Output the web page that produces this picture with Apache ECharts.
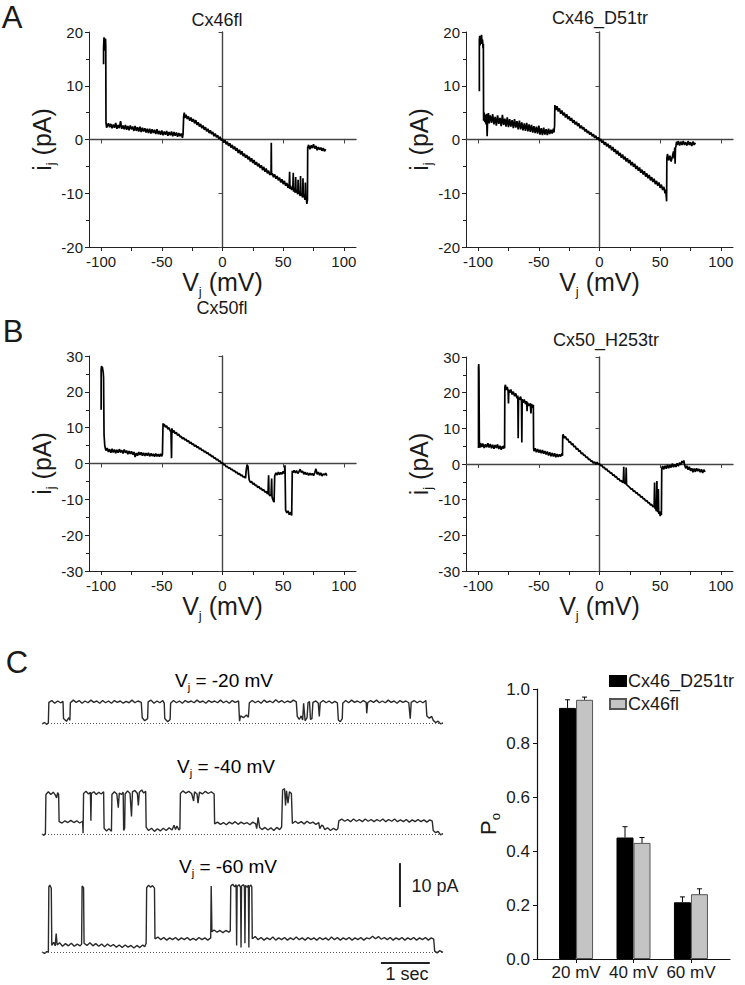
<!DOCTYPE html>
<html><head><meta charset="utf-8">
<script src="https://cdn.jsdelivr.net/npm/echarts@6/dist/echarts.min.js"></script>
<style>html,body{margin:0;padding:0;background:#fff}#c{width:745px;height:985px}</style>
</head><body><div id="c"></div>
<script>
const FONT = 'Liberation Sans, Arial, Helvetica, sans-serif';

// ---------- Panel A / B : single-channel I-V ramps [Vj (mV), ij (pA)] ----------
const ivCx46fl = [[-98,14],[-98,17],[-97.6,19],[-97.3,16.5],[-97,18.5],[-96.7,17],[-96.4,18.8],[-96.2,17.5],[-96,3.2],[-95.5,2.2],[-94,3.0],[-93,2.3],[-92,2.9],[-91,2.1],[-90,2.8],[-89,2.2],[-88,3.1],[-87,2.0],[-86,2.7],[-85,2.1],[-84,3.4],[-83,2.0],[-82,2.6],[-81,1.9],[-80,2.7],[-79,1.8],[-78,2.5],[-77,1.7],[-76,2.6],[-75,1.9],[-74,2.4],[-73,1.6],[-72,2.5],[-71,1.6],[-70,2.3],[-69,1.5],[-68,2.4],[-67,1.4],[-66,2.2],[-65,1.5],[-64,2.1],[-63,1.3],[-62,2.0],[-61,1.2],[-60,2.0],[-59,1.1],[-58,1.9],[-57,1.2],[-56,1.8],[-55,1.0],[-54,1.9],[-53,1.0],[-52,1.6],[-51,0.9],[-50,1.7],[-49,0.8],[-48,1.5],[-47,0.9],[-46,1.6],[-45,0.7],[-44,1.4],[-43,0.8],[-42,1.5],[-41,0.6],[-40,1.4],[-39,0.7],[-38,1.3],[-37,0.5],[-36,1.2],[-35,0.6],[-34,1.1],[-33,0.3],[-32.5,1.0],[-32,4.3],[-31.5,5.0],[-31,4.0],[-30,4.6],[-29,3.8],[-28,4.3],[-27,3.5],[-26,4.1],[-25,3.3],[-24,3.8],[-23,3.0],[-22,3.6],[-21,2.7],[-20,3.2],[-19,2.4],[-18,2.9],[-17,2.1],[-16,2.6],[-15,1.8],[-14,2.3],[-13,1.5],[-12,2.0],[-11,1.2],[-10,1.7],[-9,1.0],[-8,1.4],[-7,0.6],[-6,1.1],[-5,0.4],[-4,0.8],[-3,0.1],[-2,0.5],[-1,-0.2],[0,0.1],[1,-0.6],[2,-0.1],[3,-0.9],[4,-0.4],[5,-1.2],[6,-0.7],[7,-1.5],[8,-1.0],[9,-1.8],[10,-1.3],[11,-2.1],[12,-1.6],[13,-2.5],[14,-1.9],[15,-2.8],[16,-2.2],[17,-3.1],[18,-2.6],[19,-3.4],[20,-2.9],[21,-3.7],[22,-3.2],[23,-4.1],[24,-3.5],[25,-4.4],[26,-3.8],[27,-4.7],[28,-4.2],[29,-5.0],[30,-4.5],[31,-5.3],[32,-4.8],[33,-5.7],[34,-5.1],[35,-6.0],[36,-5.4],[37,-6.3],[38,-5.8],[39,-6.6],[40,-6.1],[40.2,-0.6],[40.4,-6.6],[41,-6.3],[42,-7.0],[43,-6.5],[44,-7.3],[45,-6.8],[46,-7.6],[47,-7.1],[48,-8.0],[49,-7.4],[50,-8.3],[51,-7.7],[52,-8.6],[53,-8.1],[54,-9.0],[55,-8.3],[55.3,-6.0],[55.6,-9.2],[56,-8.6],[57,-9.4],[58,-8.8],[58.3,-6.2],[58.6,-9.7],[59,-9.1],[60,-9.9],[60.3,-7.0],[60.6,-9.9],[61,-9.4],[62,-10.2],[62.3,-7.5],[62.6,-10.1],[63,-9.7],[64,-10.5],[64.3,-6.8],[64.6,-10.4],[65,-10.0],[66,-10.8],[66.3,-7.2],[66.6,-10.7],[67,-10.2],[68,-11.2],[68.3,-8.0],[68.6,-11.0],[69,-10.6],[69.5,-12.0],[70,-11.2],[70.2,-1.5],[71,-1.0],[72,-1.8],[73,-1.1],[74,-1.6],[75,-0.9],[76,-1.7],[77,-1.2],[78,-2.0],[79,-1.4],[80,-1.9],[81,-1.5],[82,-2.1],[83,-1.6],[84,-2.2],[85,-1.8]];

const ivCx46D51tr = [[-99,9],[-99,18.5],[-98.7,19.3],[-98.4,17.5],[-98,18.8],[-97.6,17.8],[-97.2,19.5],[-96.8,18],[-96.4,18.6],[-96,17],[-95.7,17.8],[-95.5,3.5],[-95,5.0],[-94.5,3.2],[-94,4.6],[-93.5,2.8],[-93,4.8],[-92.6,0.6],[-92.2,3.6],[-91.5,4.9],[-91,3.0],[-90,4.5],[-89,3.1],[-88,4.7],[-87,2.8],[-86,4.2],[-85,2.6],[-84,4.5],[-83,2.9],[-82,4.0],[-81,2.5],[-80,4.6],[-79,2.7],[-78,3.9],[-77,2.4],[-76,4.1],[-75,2.3],[-74,3.8],[-73,2.4],[-72,3.6],[-71,2.1],[-70,3.8],[-69,2.2],[-68,3.4],[-67,1.9],[-66,3.5],[-65,1.9],[-64,3.2],[-63,1.7],[-62,3.0],[-61,1.6],[-60,3.1],[-59,1.5],[-58,2.8],[-57,1.4],[-56,2.7],[-55,1.3],[-54,2.5],[-53,1.2],[-52,2.4],[-51,1.1],[-50,2.6],[-49,0.9],[-48,2.1],[-47,0.8],[-46,2.2],[-45,0.9],[-44,1.9],[-43,0.8],[-42,2.0],[-41,1.0],[-40,1.8],[-39,1.1],[-38,2.0],[-37.5,1.3],[-37,2.6],[-36.8,6.4],[-36,5.5],[-35,6.2],[-34,5.2],[-33,5.8],[-32,4.8],[-31,5.4],[-30,4.5],[-29,5.0],[-28,4.1],[-27,4.7],[-26,3.8],[-25,4.3],[-24,3.5],[-23,4.0],[-22,3.1],[-21,3.6],[-20,2.8],[-19,3.3],[-18,2.5],[-17,3.0],[-16,2.1],[-15,2.6],[-14,1.9],[-13,2.3],[-12,1.5],[-11,1.9],[-10,1.2],[-9,1.6],[-8,0.9],[-7,1.3],[-6,0.6],[-5,1.0],[-4,0.3],[-3,0.7],[-2,0.0],[-1,0.4],[0,-0.3],[1,0.1],[2,-0.6],[3,-0.2],[4,-1.0],[5,-0.5],[6,-1.3],[7,-0.8],[8,-1.6],[9,-1.1],[10,-2.0],[11,-1.4],[12,-2.3],[13,-1.8],[14,-2.7],[15,-2.1],[16,-3.0],[17,-2.5],[18,-3.4],[19,-2.8],[20,-3.7],[21,-3.2],[22,-4.1],[23,-3.5],[24,-4.4],[25,-3.8],[26,-4.8],[27,-4.2],[28,-5.1],[29,-4.5],[30,-5.5],[31,-4.9],[32,-5.8],[33,-5.2],[34,-6.2],[35,-5.6],[36,-6.5],[37,-5.9],[38,-6.9],[39,-6.3],[40,-7.2],[41,-6.6],[42,-7.6],[43,-7.0],[44,-7.9],[45,-7.3],[46,-8.3],[47,-7.7],[48,-8.6],[49,-8.0],[50,-9.0],[51,-8.4],[52,-9.4],[53,-8.8],[54,-10.0],[54.5,-9.3],[55,-10.6],[55.3,-11.5],[55.5,-3.5],[56,-2.7],[57,-3.9],[58,-3.0],[59,-4.1],[60,-3.2],[61,-2.2],[61.5,-3.5],[62,-1.5],[62.3,-4.5],[62.6,-1.6],[63,-1.2],[63.5,-0.4],[64,-1.0],[65,-0.3],[66,-1.1],[67,-0.4],[68,-1.0],[69,-0.3],[70,-1.0],[71,-0.5],[72,-1.1],[73,-0.3],[74,-1.0],[75,-0.5],[76,-1.2],[77,-0.4],[78,-1.0],[79,-0.6]];

const ivCx50fl = [[-100,15],[-100,26],[-99.7,27.2],[-99.3,26.5],[-99,27],[-98.6,26],[-98.3,25.5],[-98,24],[-97.8,16],[-97.6,8],[-97.3,6.5],[-97,5],[-96.5,4.2],[-96,3.6],[-95,4.3],[-94,3.2],[-93,4.0],[-92,3.0],[-91,4.1],[-90,3.1],[-89,3.9],[-88,2.9],[-87,3.8],[-86,3.0],[-85,4.0],[-84,3.1],[-83,3.7],[-82,2.8],[-81,3.9],[-80,3.0],[-79,3.6],[-78,2.6],[-77,3.5],[-76,2.7],[-75,3.4],[-74,2.5],[-73,3.2],[-72,1.8],[-71,2.9],[-70,2.2],[-69,3.2],[-68,2.4],[-67,3.1],[-66,2.2],[-65,3.0],[-64,2.1],[-63,2.9],[-62,2.2],[-61,3.0],[-60,2.0],[-59,2.8],[-58,2.1],[-57,2.7],[-56,1.9],[-55,2.8],[-54,2.0],[-53,2.6],[-52,1.9],[-51,2.7],[-50,2.0],[-49.5,2.6],[-49,11.2],[-48.5,10.4],[-48,11],[-47,10.1],[-46,10.5],[-45,9.6],[-44,10.0],[-43,9.0],[-42.5,9.4],[-42,1.5],[-41.7,9.8],[-41,8.6],[-40,9.2],[-39,8.3],[-38,8.7],[-37,7.8],[-36,8.2],[-35,7.4],[-34,7.6],[-33,6.9],[-32,7.2],[-31,6.5],[-30,6.8],[-29,6.1],[-28,6.4],[-27,5.6],[-26,6.0],[-25,5.3],[-24,5.5],[-23,4.8],[-22,5.1],[-21,4.4],[-20,4.7],[-19,4.0],[-18,4.3],[-17,3.6],[-16,3.8],[-15,3.2],[-14,3.4],[-13,2.8],[-12,3.0],[-11,2.4],[-10,2.5],[-9,1.9],[-8,2.1],[-7,1.5],[-6,1.6],[-5,1.0],[-4,1.2],[-3,0.6],[-2,0.7],[-1,0.1],[0,0.2],[1,-0.4],[2,-0.3],[3,-0.9],[4,-0.8],[5,-1.3],[6,-1.2],[7,-1.7],[8,-1.6],[9,-2.1],[10,-2.0],[11,-2.6],[12,-2.4],[13,-3.0],[14,-2.8],[15,-3.4],[16,-3.2],[17,-3.8],[18,-3.6],[19,-4.1],[19.5,-2.0],[20.2,-0.3],[21,-0.8],[21.5,-3.0],[22,-4.6],[23,-5.3],[24,-5.0],[25,-5.8],[26,-5.5],[27,-6.2],[28,-6.0],[29,-6.7],[30,-6.4],[31,-7.1],[32,-6.9],[33,-7.6],[34,-7.3],[35,-8.0],[36,-7.8],[37,-8.5],[37.5,-8.2],[38,-3.3],[38.3,-8.6],[39,-9.0],[40,-8.7],[40.5,-4.2],[40.8,-9.2],[41,-9.6],[42,-10.5],[42.5,-10.8],[43,-3.5],[44,-2.6],[45,-3.2],[46,-2.4],[47,-3.1],[48,-2.5],[49,-3.0],[50,-2.2],[51,-2.8],[51.5,-0.5],[52,-13.0],[53,-13.8],[54,-13.2],[55,-14.3],[56,-13.6],[57,-14.5],[57.5,-2.0],[58,-2.5],[59,-1.9],[60,-2.6],[61,-2.0],[62,-2.8],[63,-2.3],[64,-1.6],[65,-2.5],[66,-2.1],[67,-3.0],[68,-2.4],[69,-3.1],[70,-2.6],[71,-3.3],[72,-2.7],[73,-3.2],[74,-2.8],[75,-3.4],[76,-2.6],[77,-1.5],[78,-3.0],[79,-2.4],[80,-3.3],[81,-2.6],[82,-3.5],[83,-2.9],[84,-3.2],[85,-2.7],[86,-3.4]];

const ivCx50H253tr = [[-99.7,4.5],[-99.7,27],[-99.5,28],[-99.3,26],[-99,5.5],[-98.5,4.6],[-98,5.9],[-97,4.8],[-96,5.7],[-95,4.5],[-94,5.5],[-93,4.7],[-92,5.8],[-91,4.6],[-90,5.6],[-89,4.4],[-88,5.4],[-87,4.3],[-86,5.3],[-85,4.5],[-84,5.5],[-83,4.2],[-82,5.1],[-81,4.0],[-80,5.0],[-79,4.3],[-78.5,5.2],[-78.2,4.4],[-78,21.5],[-77.5,22.2],[-77,20.8],[-76,21.6],[-75.3,20.4],[-75,17],[-74.7,20.8],[-74,20.0],[-73,20.9],[-72,19.5],[-71,20.3],[-70,19.0],[-69,19.8],[-68,18.4],[-67.3,19.2],[-67,7.2],[-66.7,18.6],[-66,18.0],[-65,18.9],[-64.3,17.6],[-64,6.0],[-63.7,18.2],[-63,17.2],[-62,18.1],[-61,16.8],[-60,17.6],[-59.7,14.8],[-59.4,17.2],[-58,16.3],[-57,17.0],[-56.5,14.2],[-56,16.8],[-55,15.8],[-54.5,16.6],[-54.3,4.6],[-54,3.6],[-53,4.4],[-52,3.3],[-51,4.2],[-50,3.2],[-49,4.0],[-48,3.0],[-47,3.9],[-46,2.9],[-45,3.6],[-44,2.7],[-43,3.5],[-42,2.4],[-41,3.3],[-40,2.2],[-39,3.1],[-38,2.1],[-37,3.0],[-36,1.9],[-35,2.8],[-34,2.0],[-33,2.7],[-32,2.1],[-31,2.9],[-30.5,2.3],[-30.3,7.9],[-30,8.3],[-29,7.3],[-28,7.7],[-27,6.8],[-26,7.0],[-25,6.0],[-24,6.3],[-23,5.4],[-22,5.7],[-21,4.8],[-20,5.0],[-19,4.1],[-18,4.4],[-17,3.5],[-16,3.8],[-15,2.9],[-14,3.1],[-13,2.4],[-12,2.5],[-11,1.8],[-10,2.0],[-9,1.2],[-8,1.4],[-7,0.7],[-6,0.9],[-5,0.2],[-4,0.6],[-3,-0.1],[-2,0.5],[-1,-0.1],[0,0.1],[1,-0.5],[2,-0.4],[3,-1.0],[4,-0.9],[5,-1.6],[6,-1.4],[7,-2.1],[8,-2.0],[9,-2.6],[10,-2.5],[11,-3.2],[12,-3.0],[13,-3.7],[14,-3.5],[15,-4.3],[16,-4.1],[17,-4.8],[18,-4.6],[19,-5.2],[19.6,-5.0],[20,-0.8],[20.3,-5.2],[21,-5.4],[21.7,-5.6],[22,-1.0],[22.3,-5.8],[23,-6.0],[24,-6.3],[25,-6.6],[26,-7.1],[27,-6.9],[28,-7.7],[29,-7.5],[30,-8.2],[31,-8.0],[32,-8.7],[33,-8.6],[34,-9.3],[35,-9.1],[36,-9.8],[37,-9.7],[38,-10.4],[39,-10.2],[40,-10.9],[41,-10.8],[42,-11.5],[43,-11.3],[44,-12.0],[45,-11.9],[45.4,-5.2],[45.8,-12.6],[46,-12.4],[47,-13.2],[47.3,-4.8],[47.6,-13.0],[48,-13.5],[48.5,-7.0],[48.8,-13.6],[49,-14.0],[49.5,-13.3],[50,-14.6],[50.5,-13.5],[51,-14.3],[51.3,-1.2],[52,-0.6],[53,-1.5],[54,-0.5],[55,-1.3],[56,-0.2],[57,-1.2],[58,-0.3],[59,-1.0],[60,0.1],[61,-0.9],[62,-0.1],[63,-0.8],[64,0.2],[65,-0.6],[66,0.4],[67,-0.2],[68,0.8],[69,0.3],[69.5,1.0],[70,0.0],[71,-1.2],[72,-0.5],[73,-1.6],[74,-0.8],[75,-1.9],[76,-1.2],[77,-2.3],[78,-1.3],[79,-2.2],[80,-1.2],[81,-2.0],[82,-1.4],[83,-2.3],[84,-1.5],[85,-2.5],[86,-1.6],[87,-2.2]];

const ivTitles = ['Cx46fl', 'Cx46_D51tr', 'Cx50fl', 'Cx50_H253tr'];
const ivXTickLabels = [-100, -50, 0, 50, 100];
const ivXTicks = [-100, -75, -50, -25, 0, 25, 50, 75, 100];
const ivYLimits = [20, 20, 30, 30];

// ---------- Panel C : current traces [time (s), current (pA)] ----------
const traceM20 = [[0,-0.2],[0.05,0.1],[0.1,-0.3],[0.13,0.0],[0.14,4.7],[0.2,5.1],[0.26,4.5],[0.32,5.0],[0.38,4.6],[0.43,4.9],[0.44,1.0],[0.5,0.4],[0.55,1.2],[0.57,0.6],[0.58,4.6],[0.64,5.2],[0.7,4.7],[0.76,5.1],[0.82,4.5],[0.88,5.0],[0.94,4.6],[1.0,5.2],[1.06,4.7],[1.12,5.0],[1.18,4.5],[1.24,5.1],[1.3,4.6],[1.36,5.0],[1.42,4.5],[1.48,5.1],[1.54,4.7],[1.6,5.0],[1.66,4.5],[1.72,4.9],[1.78,4.6],[1.84,5.2],[1.9,4.6],[1.96,5.0],[2.03,4.7],[2.05,1.2],[2.1,0.5],[2.16,1.0],[2.17,4.8],[2.23,5.2],[2.29,4.5],[2.35,5.0],[2.41,4.6],[2.47,5.1],[2.5,4.5],[2.51,1.0],[2.57,0.3],[2.62,0.8],[2.63,4.5],[2.69,5.1],[2.75,4.6],[2.81,5.0],[2.87,4.5],[2.93,5.1],[2.99,4.7],[3.05,5.0],[3.11,4.6],[3.17,5.2],[3.23,4.7],[3.29,5.0],[3.35,4.5],[3.41,5.1],[3.47,4.7],[3.53,5.0],[3.59,4.6],[3.65,5.2],[3.71,4.6],[3.77,5.0],[3.83,4.5],[3.89,5.1],[3.95,4.7],[4.02,5.0],[4.04,0.4],[4.06,1.6],[4.12,1.2],[4.18,1.8],[4.22,1.3],[4.24,4.6],[4.3,5.1],[4.36,4.6],[4.42,5.0],[4.48,4.5],[4.54,5.2],[4.6,4.7],[4.66,5.0],[4.72,4.6],[4.78,5.3],[4.84,4.7],[4.9,5.1],[4.96,4.6],[5.02,5.0],[5.08,4.7],[5.14,5.2],[5.2,4.8],[5.22,1.5],[5.26,0.8],[5.3,1.6],[5.33,0.7],[5.35,4.5],[5.38,0.5],[5.42,1.2],[5.44,4.6],[5.47,4.9],[5.49,0.8],[5.52,1.0],[5.54,4.7],[5.6,5.0],[5.65,4.5],[5.67,1.5],[5.69,4.6],[5.75,5.1],[5.81,4.6],[5.87,5.0],[5.93,4.5],[5.99,4.9],[6.04,4.6],[6.06,0.7],[6.1,0.3],[6.14,1.0],[6.15,4.5],[6.21,5.1],[6.27,4.6],[6.33,5.2],[6.39,4.7],[6.45,5.0],[6.51,4.6],[6.57,5.1],[6.63,4.7],[6.64,2.2],[6.66,4.6],[6.72,5.1],[6.78,4.7],[6.84,5.2],[6.9,4.6],[6.96,5.0],[7.02,4.6],[7.08,5.2],[7.14,4.7],[7.2,5.0],[7.26,4.5],[7.32,5.1],[7.38,4.7],[7.44,5.0],[7.5,4.6],[7.53,1.0],[7.55,4.7],[7.61,5.1],[7.67,4.6],[7.73,5.0],[7.79,4.6],[7.85,5.1],[7.87,1.6],[7.92,1.1],[7.97,1.5],[8.0,0.6],[8.05,0.1],[8.1,0.4],[8.15,-0.2],[8.2,0.0]];

const traceM40 = [[0,0.0],[0.04,-0.3],[0.07,0.1],[0.08,9.0],[0.13,9.6],[0.18,9.0],[0.23,9.5],[0.27,8.9],[0.3,8.2],[0.32,9.4],[0.34,9.0],[0.35,2.8],[0.41,2.5],[0.47,3.0],[0.53,2.6],[0.59,3.1],[0.65,2.6],[0.71,3.0],[0.77,2.5],[0.83,2.9],[0.84,0.2],[0.85,9.2],[0.9,9.7],[0.95,9.1],[0.99,9.5],[1.0,3.0],[1.01,9.2],[1.06,9.6],[1.11,9.0],[1.16,9.5],[1.21,9.1],[1.26,9.6],[1.27,1.3],[1.32,0.7],[1.37,1.2],[1.42,0.6],[1.43,9.0],[1.48,9.6],[1.53,9.1],[1.56,6.0],[1.58,9.3],[1.63,9.0],[1.66,9.5],[1.67,0.8],[1.69,1.3],[1.7,9.1],[1.75,9.8],[1.8,9.2],[1.83,4.0],[1.85,9.6],[1.9,9.9],[1.95,9.2],[1.97,6.5],[1.99,9.5],[2.04,10.0],[2.08,9.3],[2.12,9.7],[2.13,1.5],[2.18,0.8],[2.24,1.3],[2.3,0.6],[2.36,1.2],[2.42,0.7],[2.48,1.3],[2.54,0.8],[2.6,1.4],[2.66,0.9],[2.7,2.0],[2.73,1.0],[2.76,1.8],[2.8,0.9],[2.82,1.2],[2.83,9.2],[2.88,9.8],[2.94,9.3],[3.0,9.7],[3.06,9.2],[3.1,7.5],[3.12,9.6],[3.17,9.1],[3.19,7.0],[3.22,9.5],[3.28,9.1],[3.34,9.7],[3.4,9.2],[3.46,9.6],[3.52,9.1],[3.53,2.3],[3.59,2.7],[3.65,2.2],[3.71,2.6],[3.77,2.1],[3.83,2.7],[3.89,2.3],[3.95,2.8],[4.01,2.2],[4.07,2.7],[4.13,2.3],[4.19,2.6],[4.25,2.1],[4.31,2.7],[4.37,2.3],[4.39,1.2],[4.42,3.8],[4.45,1.5],[4.5,1.0],[4.56,1.5],[4.62,0.9],[4.68,1.4],[4.74,0.8],[4.8,1.5],[4.86,1.0],[4.9,1.6],[4.92,10.0],[4.96,10.3],[4.98,6.5],[5.0,9.8],[5.03,7.0],[5.06,9.6],[5.1,9.2],[5.12,2.4],[5.18,2.9],[5.24,2.4],[5.3,2.8],[5.36,2.3],[5.42,2.9],[5.48,2.4],[5.54,2.7],[5.6,2.2],[5.66,2.6],[5.68,1.2],[5.72,2.0],[5.75,1.8],[5.78,1.0],[5.84,1.4],[5.9,0.8],[5.96,1.3],[6.02,0.9],[6.05,1.2],[6.07,3.0],[6.13,3.4],[6.19,2.9],[6.25,3.3],[6.31,2.8],[6.37,3.4],[6.43,2.9],[6.49,3.3],[6.55,2.8],[6.61,3.4],[6.67,2.9],[6.73,3.3],[6.79,2.8],[6.85,3.3],[6.91,2.9],[6.97,3.4],[7.03,2.8],[7.09,3.3],[7.15,2.9],[7.21,3.4],[7.27,2.8],[7.33,3.2],[7.39,2.8],[7.45,3.3],[7.51,2.7],[7.57,3.2],[7.63,2.8],[7.69,3.3],[7.75,2.8],[7.81,3.2],[7.87,2.7],[7.93,3.2],[7.98,2.9],[8.0,0.8],[8.05,0.3],[8.1,0.6],[8.15,-0.2],[8.2,0.1]];

const traceM60 = [[0,0.0],[0.05,-0.3],[0.1,0.1],[0.13,0.0],[0.14,14.8],[0.16,15.2],[0.19,14.5],[0.2,1.5],[0.24,2.2],[0.27,1.4],[0.29,4.2],[0.31,1.6],[0.36,2.1],[0.42,1.3],[0.48,1.9],[0.54,1.4],[0.6,2.0],[0.66,1.3],[0.72,1.8],[0.78,1.4],[0.81,1.8],[0.82,15.0],[0.85,14.6],[0.86,2.0],[0.92,1.5],[0.98,2.1],[1.04,1.4],[1.1,1.9],[1.16,1.3],[1.22,1.8],[1.28,1.2],[1.34,1.8],[1.4,1.3],[1.46,1.7],[1.52,1.1],[1.58,1.6],[1.64,1.0],[1.7,1.6],[1.76,1.1],[1.82,1.5],[1.88,0.9],[1.94,1.5],[2.0,1.0],[2.06,1.6],[2.1,1.2],[2.13,2.0],[2.14,14.6],[2.18,15.2],[2.22,14.7],[2.26,15.1],[2.3,14.5],[2.31,3.0],[2.37,3.4],[2.43,2.8],[2.49,3.3],[2.55,2.7],[2.61,3.2],[2.67,2.8],[2.73,3.3],[2.79,2.7],[2.85,3.2],[2.91,2.8],[2.97,3.3],[3.03,2.7],[3.09,3.1],[3.15,2.7],[3.21,3.3],[3.27,2.8],[3.33,3.2],[3.39,2.7],[3.45,3.2],[3.46,15.0],[3.475,4.6],[3.52,5.0],[3.58,4.5],[3.64,4.9],[3.7,4.4],[3.76,4.9],[3.82,4.5],[3.85,4.8],[3.86,15.0],[3.9,15.4],[3.94,14.8],[3.97,15.3],[3.98,1.5],[3.99,14.9],[4.03,15.3],[4.06,14.7],[4.07,1.0],[4.08,15.0],[4.12,15.3],[4.14,14.8],[4.15,2.0],[4.16,15.1],[4.2,14.7],[4.22,15.2],[4.23,1.0],[4.24,14.9],[4.27,15.2],[4.29,14.8],[4.3,3.0],[4.36,3.5],[4.42,2.8],[4.48,3.3],[4.54,2.7],[4.6,3.2],[4.66,2.8],[4.72,3.4],[4.78,2.7],[4.84,3.2],[4.9,2.8],[4.96,3.3],[5.02,2.7],[5.08,3.2],[5.14,2.8],[5.2,3.4],[5.26,2.8],[5.32,3.2],[5.38,2.7],[5.44,3.3],[5.5,2.8],[5.56,3.2],[5.62,2.7],[5.68,3.3],[5.74,2.8],[5.8,3.2],[5.86,2.7],[5.92,3.4],[5.98,2.8],[6.04,3.3],[6.1,2.7],[6.16,3.2],[6.22,2.8],[6.28,3.3],[6.34,2.7],[6.4,3.2],[6.46,2.8],[6.52,3.3],[6.58,2.7],[6.64,3.2],[6.7,3.0],[6.76,3.6],[6.82,3.0],[6.88,3.5],[6.94,2.9],[7.0,3.3],[7.06,2.8],[7.12,3.3],[7.18,2.7],[7.24,3.2],[7.3,2.8],[7.36,3.3],[7.42,2.7],[7.48,3.2],[7.54,2.8],[7.6,3.3],[7.66,2.7],[7.72,3.2],[7.78,2.8],[7.84,3.3],[7.9,2.7],[7.96,3.2],[8.01,2.9],[8.03,0.2],[8.08,-0.2],[8.13,0.3],[8.2,-0.1]];

const traceVoltages = ['-20', '-40', '-60'];
const scaleBarTime = [[6.93, -2.5], [7.93, -2.5]];   // 1 sec
const scaleBarAmp = [[7.32, 10.2], [7.32, 20.2]];    // 10 pA

// ---------- Panel C right : open probability ----------
const poCategories = ['20 mV', '40 mV', '60 mV'];
const poSeriesNames = ['Cx46_D251tr', 'Cx46fl'];
const poD251tr = [0.93, 0.45, 0.21];
const poD251trErr = [0.03, 0.04, 0.02];
const poCx46fl = [0.96, 0.43, 0.24];
const poCx46flErr = [0.01, 0.02, 0.02];

// ================= build option =================
const chart = echarts.init(document.getElementById('c'), null, {renderer: 'svg'});
const TXT = '#1a1a1a';

const ivGridBoxes = [
  {left: 89, top: 32, width: 267, height: 215},
  {left: 466, top: 32, width: 267, height: 215},
  {left: 89, top: 356, width: 267, height: 215},
  {left: 466, top: 357, width: 267, height: 214}
];
const ivData = [ivCx46fl, ivCx46D51tr, ivCx50fl, ivCx50H253tr];

const grids = [], xAxes = [], yAxes = [], series = [];

function richName(base, sub, rest, size, subSize) {
  return {
    text: '{a|' + base + '}{s|' + sub + '}{a|' + rest + '}',
    rich: {
      a: {fontSize: size, fontFamily: FONT, color: TXT, lineHeight: size + 6},
      s: {fontSize: subSize, fontFamily: FONT, color: TXT, lineHeight: subSize, verticalAlign: 'bottom'}
    }
  };
}

ivGridBoxes.forEach((g, k) => {
  grids.push(g);
  const lim = ivYLimits[k];
  const xn = richName('V', 'j', ' (mV)', 25, 13);
  const yn = richName('i', 'j', ' (pA)', 25, 13);
  xAxes.push({
    gridIndex: k, type: 'value', min: -110, max: 110, position: 'bottom',
    axisLine: {show: true, onZero: false, lineStyle: {color: '#222', width: 1}},
    axisTick: {show: true, customValues: ivXTicks, length: 4, lineStyle: {color: '#222'}},
    axisLabel: {customValues: ivXTickLabels, fontSize: 15, fontFamily: FONT, color: TXT, margin: 7},
    splitLine: {show: false},
    name: xn.text, nameLocation: 'middle', nameGap: 19,
    nameTextStyle: {rich: xn.rich}
  });
  xAxes.push({
    gridIndex: k, type: 'value', min: -110, max: 110,
    axisLine: {show: true, onZero: true, lineStyle: {color: '#444', width: 1.4}},
    axisTick: {show: true, customValues: [-100, -50, 50, 100], length: 4, inside: true, lineStyle: {color: '#444'}},
    axisLabel: {show: false}, splitLine: {show: false}
  });
  yAxes.push({
    gridIndex: k, type: 'value', min: -lim, max: lim, interval: 10, position: 'left',
    axisLine: {show: true, onZero: false, lineStyle: {color: '#222', width: 1}},
    axisTick: {show: true, length: 4, lineStyle: {color: '#222'}},
    minorTick: {show: true, splitNumber: 2, length: 3, lineStyle: {color: '#222'}},
    axisLabel: {fontSize: 15, fontFamily: FONT, color: TXT, margin: 6},
    splitLine: {show: false},
    name: yn.text, nameLocation: 'middle', nameGap: 26, nameRotate: 90,
    nameTextStyle: {rich: yn.rich}
  });
  yAxes.push({
    gridIndex: k, type: 'value', min: -lim, max: lim, interval: 10,
    axisLine: {show: true, onZero: true, lineStyle: {color: '#444', width: 1.4}},
    axisTick: {show: true, length: 4, inside: true, lineStyle: {color: '#444'}},
    axisLabel: {show: false}, splitLine: {show: false}
  });
  series.push({
    type: 'line', xAxisIndex: 2 * k, yAxisIndex: 2 * k, data: ivData[k],
    showSymbol: false, symbol: 'none', silent: true,
    lineStyle: {color: '#000', width: 1.7}
  });
});

// traces
const traceBoxes = [
  {left: 42, top: 687.8, width: 401, height: 44, min: -2, max: 8},
  {left: 42, top: 781.2, width: 401, height: 61.6, min: -2, max: 12},
  {left: 42, top: 855.2, width: 401, height: 114.4, min: -4, max: 22}
];
const traceData = [traceM20, traceM40, traceM60];
traceBoxes.forEach((b, i) => {
  const gi = grids.length;
  grids.push({left: b.left, top: b.top, width: b.width, height: b.height});
  const xi = xAxes.length, yi = yAxes.length;
  xAxes.push({gridIndex: gi, type: 'value', min: 0, max: 8.2, show: false});
  yAxes.push({gridIndex: gi, type: 'value', min: b.min, max: b.max, show: false});
  series.push({
    type: 'line', xAxisIndex: xi, yAxisIndex: yi, data: traceData[i],
    showSymbol: false, symbol: 'none', silent: true,
    lineStyle: {color: '#2a2a2a', width: 1.4},
    markLine: {
      silent: true, symbol: 'none', label: {show: false},
      lineStyle: {type: [1, 2], color: '#555', width: 1},
      data: [{yAxis: 0}]
    }
  });
  if (i === 2) {
    [scaleBarTime, scaleBarAmp].forEach(d => series.push({
      type: 'line', xAxisIndex: xi, yAxisIndex: yi, data: d, clip: false,
      showSymbol: false, symbol: 'none', silent: true,
      lineStyle: {color: '#222', width: 2}
    }));
  }
});

// bar chart
const BAR_W = 17;
const bgi = grids.length;
grids.push({left: 537, top: 689, width: 193, height: 270});
const bxi = xAxes.length, byi = yAxes.length;
xAxes.push({
  gridIndex: bgi, type: 'value', min: 0.32, max: 3.68,
  axisLine: {show: true, onZero: false, lineStyle: {color: '#111', width: 1.2}},
  axisTick: {show: true, customValues: [1, 2, 3], length: 4, lineStyle: {color: '#111'}},
  axisLabel: {customValues: [1, 2, 3], formatter: v => poCategories[Math.round(v) - 1],
    fontSize: 17, fontFamily: FONT, color: TXT, margin: 5},
  splitLine: {show: false}
});
const pn = richName('P', 'o', '', 22, 13);
yAxes.push({
  gridIndex: bgi, type: 'value', min: 0, max: 1, interval: 0.2,
  axisLine: {show: true, onZero: false, lineStyle: {color: '#111', width: 1.2}},
  axisTick: {show: true, length: 4, lineStyle: {color: '#111'}},
  axisLabel: {formatter: v => v.toFixed(1), fontSize: 17, fontFamily: FONT, color: TXT, margin: 7},
  splitLine: {show: false},
  name: pn.text, nameLocation: 'middle', nameGap: 32, nameRotate: 90,
  nameTextStyle: {rich: pn.rich}
});
const poVals = [poD251tr, poCx46fl];
const poErrs = [poD251trErr, poCx46flErr];
const poStyles = [
  {color: '#000', borderColor: '#000', borderWidth: 1},
  {color: '#c4c4c4', borderColor: '#555', borderWidth: 1}
];
poVals.forEach((vals, s) => {
  series.push({
    type: 'bar', name: poSeriesNames[s], xAxisIndex: bxi, yAxisIndex: byi,
    data: vals.map((v, i) => [i + 1, v]),
    barWidth: BAR_W, barGap: '0%', itemStyle: poStyles[s], silent: true
  });
});
poVals.forEach((vals, s) => {
  series.push({
    type: 'custom', xAxisIndex: bxi, yAxisIndex: byi, silent: true, z: 5,
    data: vals.map((v, i) => [i + 1, v, poErrs[s][i], s === 0 ? -1 : 1]),
    renderItem: (params, api) => {
      const x = api.value(0), v = api.value(1), e = api.value(2), side = api.value(3);
      const p0 = api.coord([x, v]), p1 = api.coord([x, v + e]);
      const dx = side * BAR_W / 2;
      return {type: 'group', children: [
        {type: 'line', shape: {x1: p0[0] + dx, y1: p0[1], x2: p1[0] + dx, y2: p1[1]}, style: {stroke: '#000', lineWidth: 1}},
        {type: 'line', shape: {x1: p1[0] + dx - 2.5, y1: p1[1], x2: p1[0] + dx + 2.5, y2: p1[1]}, style: {stroke: '#000', lineWidth: 1}}
      ]};
    }
  });
});

// text labels
function label(x, y, text, size) {
  return {type: 'text', x: x, y: y, silent: true,
    style: {text: text, fontSize: size, fontFamily: FONT, fill: TXT, align: 'center', verticalAlign: 'middle'}};
}
function richLabel(x, y, base, sub, rest, size, subSize) {
  const r = richName(base, sub, rest, size, subSize);
  return {type: 'text', x: x, y: y, silent: true,
    style: {text: r.text, rich: r.rich, align: 'center', verticalAlign: 'middle', fontFamily: FONT, fontSize: size}};
}
const titlePos = [[217, 20], [600, 18], [222, 308], [606, 340]];
const graphics = [
  label(12, 17, 'A', 31),
  label(13, 331, 'B', 31),
  label(17, 662, 'C', 31)
];
ivTitles.forEach((t, k) => graphics.push(label(titlePos[k][0], titlePos[k][1], t, 18)));
const traceLabelY = [678, 764, 864];
const traceLabelX = [224, 226, 228];
traceVoltages.forEach((v, i) => graphics.push(richLabel(traceLabelX[i], traceLabelY[i] + 2, 'V', 'j', ' = ' + v + ' mV', 19, 11)));
graphics.push(label(435, 886, '10 pA', 18));
graphics.push(label(407, 974, '1 sec', 18));

chart.setOption({
  animation: false,
  backgroundColor: '#fff',
  textStyle: {fontFamily: FONT},
  grid: grids,
  xAxis: xAxes,
  yAxis: yAxes,
  legend: {
    data: poSeriesNames, orient: 'vertical', left: 609, top: 672,
    itemWidth: 16, itemHeight: 10, itemGap: 5, padding: 0, icon: 'rect',
    textStyle: {fontSize: 18, fontFamily: FONT, color: TXT, padding: [0, 0, 0, -3]},
    selectedMode: false
  },
  series: series,
  graphic: graphics
});
</script></body></html>
